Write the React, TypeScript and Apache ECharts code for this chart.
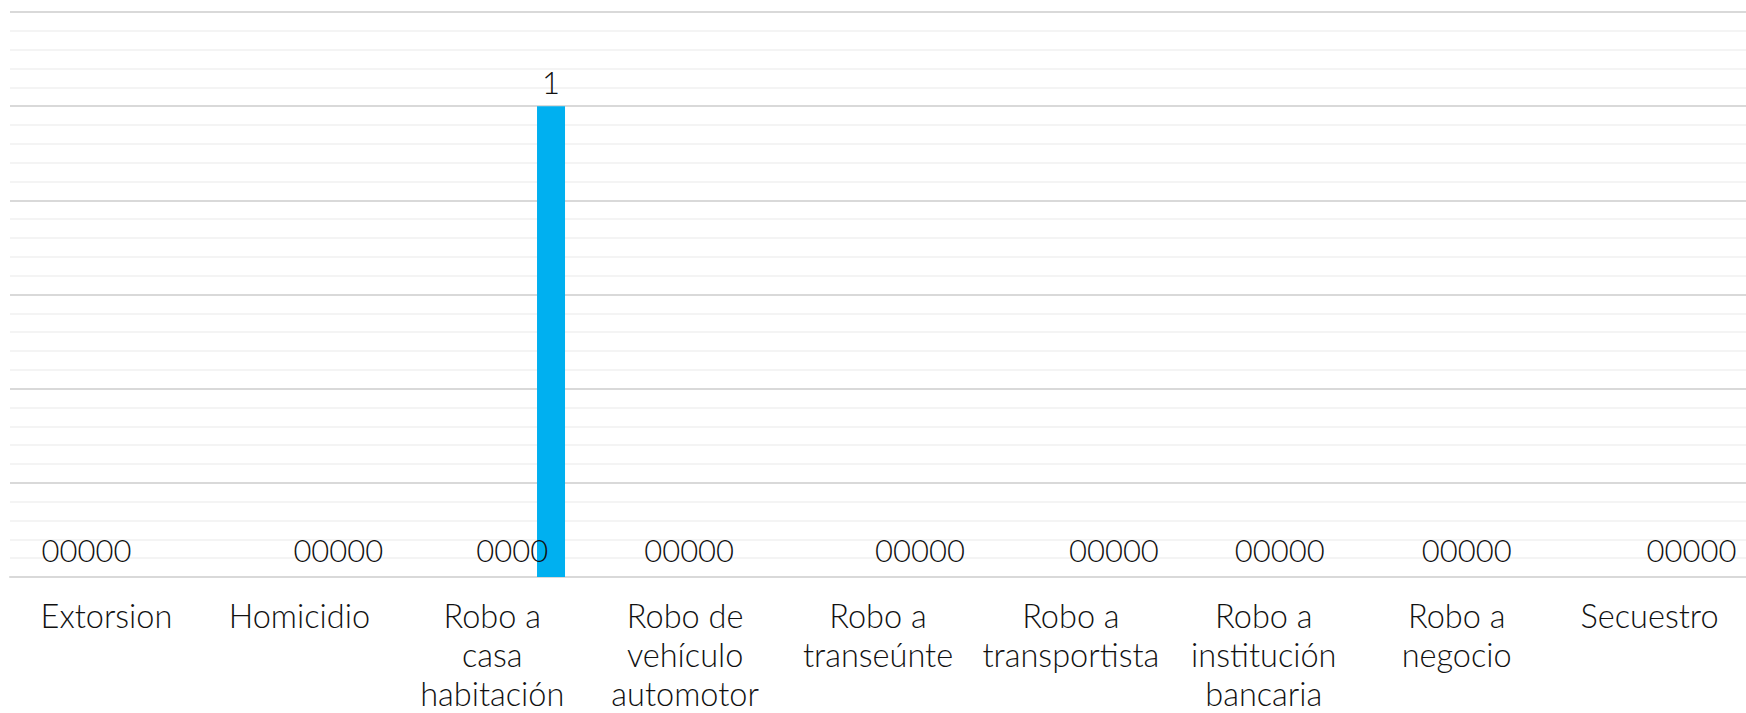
import React, { useEffect, useRef } from "react";
import * as echarts from "echarts";

const categories = [
  "Extorsion",
  "Homicidio",
  "Robo a casa habitación",
  "Robo de vehículo automotor",
  "Robo a transeúnte",
  "Robo a transportista",
  "Robo a institución bancaria",
  "Robo a negocio",
  "Secuestro",
];

const serie1 = [0, 0, 0, 0, 0, 0, 0, 0, 0];
const serie2 = [0, 0, 0, 0, 0, 0, 0, 0, 0];
const serie3 = [0, 0, 0, 0, 0, 0, 0, 0, 0];
const serie4 = [0, 0, 0, 0, 0, 0, 0, 0, 0];
const serie5 = [0, 0, 1, 0, 0, 0, 0, 0, 0];
const seriesValues = [serie1, serie2, serie3, serie4, serie5];

const yTicks = [0, 0.2, 0.4, 0.6, 0.8, 1, 1.2];

// layout: horizontal shift (px) of each category's run of zero labels
const zeroLabelShift = [-20, 39, 29, 4, 42, 43, 16, 10, 42];

const FONT = "Lato";
const FONT_SIZE = 31;
const AXIS_FONT_SIZE = 32.5;
const BAR_W = 28;
const BAR_GAP = 0.05;

function wrapName(v: string): string {
  const m = v.match(/^(Robo (?:a|de)) (.*)$/);
  if (!m) return v;
  return [m[1], ...m[2].split(" ")].join("\n");
}

export default function App() {
  const ref = useRef<HTMLDivElement>(null);
  useEffect(() => {
    if (!ref.current) return;
    const chart = echarts.init(ref.current, undefined, { renderer: "svg" });

    const cv = document.createElement("canvas");
    const ctx = cv.getContext("2d")!;
    ctx.font = `300 ${FONT_SIZE}px ${FONT}`;
    const digitW = ctx.measureText("0").width;
    const step = BAR_W * (1 + BAR_GAP);
    const n = seriesValues.length;
    const mid = (n - 1) / 2;

    const series = seriesValues.map((vals, s) => ({
      type: "bar",
      name: "Serie " + (s + 1),
      barWidth: BAR_W,
      barGap: BAR_GAP * 100 + "%",
      itemStyle: { color: "#00B0F0" },
      data: vals.map((v, c) => ({
        value: v,
        label: {
          show: true,
          position: "top",
          distance: v === 0 ? 12 : 9,
          offset: v === 0 ? [zeroLabelShift[c] + (s - mid) * (digitW - step), 0] : [0, 0],
        },
      })),
      label: {
        show: true,
        color: "#111",
        fontFamily: FONT,
        fontWeight: 300,
        fontSize: FONT_SIZE,
      },
    }));

    chart.setOption({
      animation: false,
      grid: { left: 10, right: 0, top: 12, bottom: 134, containLabel: false },
      xAxis: {
        type: "category",
        data: categories,
        axisLine: { show: true, lineStyle: { color: "#d9d9d9", width: 2 } },
        axisTick: { show: false },
        axisLabel: {
          interval: 0,
          margin: 19,
          color: "#111",
          fontFamily: FONT,
          fontWeight: 300,
          fontSize: AXIS_FONT_SIZE,
          lineHeight: 39,
          formatter: (v: string) => wrapName(v),
        },
      },
      yAxis: {
        type: "value",
        min: yTicks[0],
        max: yTicks[yTicks.length - 1],
        interval: yTicks[1] - yTicks[0],
        axisLabel: { show: false },
        axisLine: { show: false },
        axisTick: { show: false },
        splitLine: { show: true, lineStyle: { color: "#d9d9d9", width: 2 } },
        minorTick: { show: false, splitNumber: 5 },
        minorSplitLine: { show: true, lineStyle: { color: "#f0f0f0", width: 1.5 } },
      },
      series,
    });
    return () => chart.dispose();
  }, []);
  return (
    <div
      ref={ref}
      style={{ position: "fixed", left: 0, top: 0, width: 1746, height: 713, background: "#fff" }}
    />
  );
}
